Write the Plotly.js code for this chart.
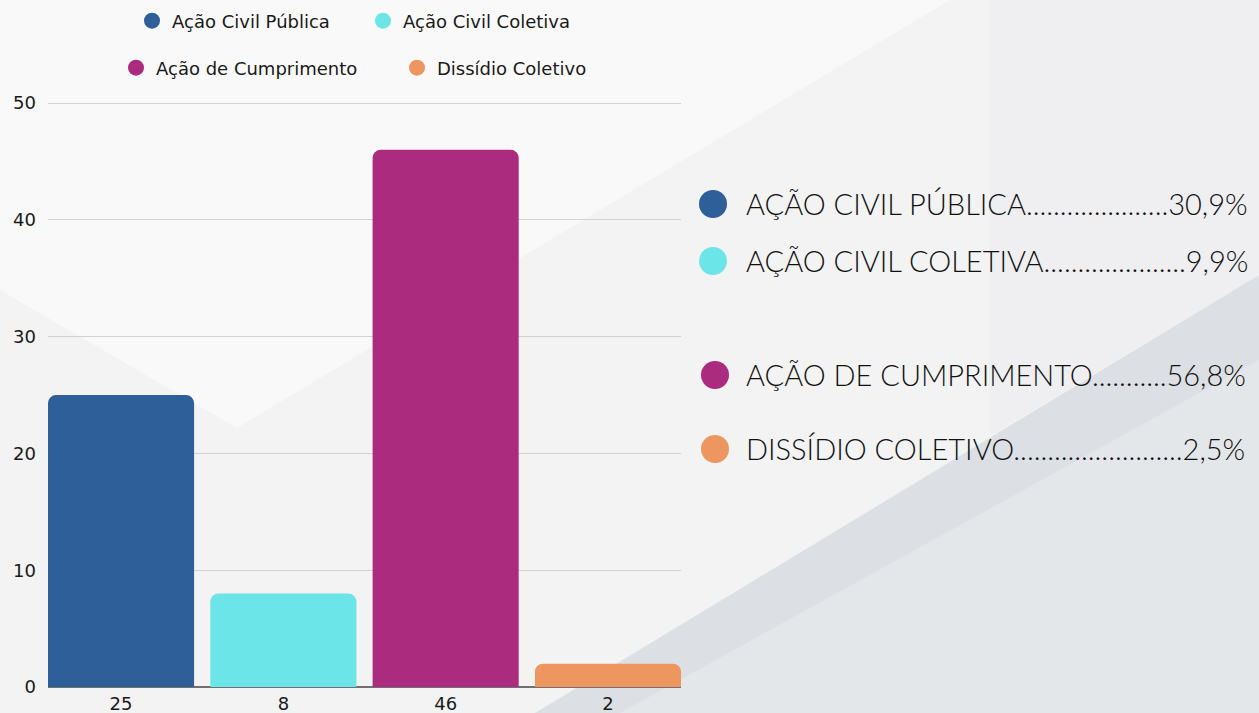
<!DOCTYPE html>
<html>
<head>
<meta charset="utf-8">
<script src="https://cdn.plot.ly/plotly-3.0.1.min.js"></script>
<style>
  html, body { margin: 0; padding: 0; background: #f3f3f4; }
  #chart { width: 1259px; height: 713px; }
</style>
</head>
<body>
<div id="chart"></div>
<script>
// ---- data ----
const categories = ["Ação Civil Pública", "Ação Civil Coletiva", "Ação de Cumprimento", "Dissídio Coletivo"];
const values = [25, 8, 46, 2];
const colors = ["#2e5f98", "#6be5e8", "#ab2c7e", "#ed965f"];
const tickLabels = values.map(String);
const legendGroups = ["legend", "legend", "legend2", "legend2"];

// ---- helpers ----
const W = 1259, H = 713;
const L = 48, R = 681, T = 102, B = 687;
const px = x => (x - L) / (R - L);
const py = y => (B - y) / (B - T);

const total = values.reduce((a, b) => a + b, 0);
const pcts = values.map(v => (v / total * 100).toFixed(1).replace('.', ',') + '%');

const listFont = "Lato";
const listSize = 29;
const ctx = document.createElement('canvas').getContext('2d');
ctx.font = "300 " + listSize + "px " + listFont;
const listLeft = 746, listRight = 1256;
const rowY = [204, 261, 375, 449];
const circleX = [713, 713, 715, 715];

function rowText(name, pct) {
  const label = name.toUpperCase();
  const avail = (listRight - listLeft) - ctx.measureText(label).width - ctx.measureText(pct).width - 4;
  const dw = ctx.measureText('.').width;
  const n = Math.max(3, Math.floor(avail / dw));
  return label + '.'.repeat(n) + pct;
}

// ---- traces ----
const traces = [{
  type: 'bar',
  x: categories,
  y: values,
  marker: { color: colors },
  showlegend: false,
  hoverinfo: 'x+y'
}];
categories.forEach((c, i) => {
  traces.push({
    type: 'scatter', mode: 'markers',
    x: [null], y: [null],
    name: c,
    legend: legendGroups[i],
    marker: { color: colors[i], size: 16, symbol: 'circle' },
    showlegend: true
  });
});

// ---- background shapes ----
const shapes = [
  { type: 'path', xref: 'paper', yref: 'paper', layer: 'below',
    path: `M ${px(0)} ${py(0)} L ${px(950)} ${py(0)} L ${px(237)} ${py(428)} L ${px(0)} ${py(290)} Z`,
    fillcolor: '#f9f9f9', line: { width: 0 } },
  { type: 'path', xref: 'paper', yref: 'paper', layer: 'below',
    path: `M ${px(990)} ${py(0)} L ${px(1259)} ${py(0)} L ${px(1259)} ${py(275)} L ${px(990)} ${py(436)} Z`,
    fillcolor: '#efeff1', line: { width: 0 } },
  { type: 'path', xref: 'paper', yref: 'paper', layer: 'below',
    path: `M ${px(1259)} ${py(275)} L ${px(1259)} ${py(713)} L ${px(535)} ${py(713)} Z`,
    fillcolor: '#e4e7ea', line: { width: 0 } },
  { type: 'path', xref: 'paper', yref: 'paper', layer: 'below',
    path: `M ${px(1259)} ${py(275)} L ${px(1259)} ${py(360)} L ${px(620)} ${py(713)} L ${px(535)} ${py(713)} Z`,
    fillcolor: 'rgba(205,211,219,0.35)', line: { width: 0 } }
];
// list circles
categories.forEach((c, i) => {
  shapes.push({
    type: 'circle', xref: 'paper', yref: 'paper',
    xsizemode: 'pixel', ysizemode: 'pixel',
    xanchor: px(circleX[i]), yanchor: py(rowY[i]),
    x0: -14, x1: 14, y0: -14, y1: 14,
    fillcolor: colors[i], line: { width: 0 }
  });
});

const annotations = categories.map((c, i) => ({
  xref: 'paper', yref: 'paper',
  x: px(listLeft - 2), y: py(rowY[i] - 1),
  xanchor: 'left', yanchor: 'middle',
  text: rowText(c, pcts[i]),
  showarrow: false,
  font: { family: listFont, size: listSize, color: '#111111', weight: 300 }
}));

const baseFont = 'DejaVu Sans, Inter, sans-serif';
const fs = 18;

const layout = {
  width: W, height: H,
  margin: { l: L, r: W - R, t: T, b: H - B, pad: 0, autoexpand: false },
  paper_bgcolor: '#f3f3f4',
  plot_bgcolor: 'rgba(0,0,0,0)',
  font: { family: baseFont, color: '#1a1a1a', size: fs },
  bargap: 0.1,
  barcornerradius: 8,
  xaxis: {
    type: 'category',
    range: [-0.45, 3.45],
    tickmode: 'array', tickvals: categories, ticktext: tickLabels,
    showgrid: false, ticks: '', showline: false, zeroline: false,
    tickfont: { family: baseFont, size: fs, color: '#1a1a1a' },
    ticklabelstandoff: 4,
    automargin: false,
    fixedrange: true
  },
  yaxis: {
    range: [0, 50.1], tickvals: [0, 10, 20, 30, 40, 50],
    showgrid: true, gridcolor: '#d2d2d2', gridwidth: 1,
    zeroline: true, zerolinecolor: '#707070', zerolinewidth: 1.5,
    ticks: '', showline: false,
    tickfont: { family: baseFont, size: fs, color: '#1a1a1a' },
    ticklabelstandoff: 11,
    automargin: false,
    fixedrange: true
  },
  legend: {
    orientation: 'h', x: px(132), y: py(21), xanchor: 'left', yanchor: 'middle',
    bgcolor: 'rgba(0,0,0,0)', font: { family: baseFont, size: fs, color: '#1a1a1a' },
    entrywidth: 186, entrywidthmode: 'pixels', itemclick: false
  },
  legend2: {
    orientation: 'h', x: px(116), y: py(68), xanchor: 'left', yanchor: 'middle',
    bgcolor: 'rgba(0,0,0,0)', font: { family: baseFont, size: fs, color: '#1a1a1a' },
    entrywidth: 236, entrywidthmode: 'pixels', itemclick: false
  },
  shapes: shapes,
  annotations: annotations,
  hovermode: false
};

Plotly.newPlot('chart', traces, layout, { displayModeBar: false, staticPlot: true });
</script>
</body>
</html>
